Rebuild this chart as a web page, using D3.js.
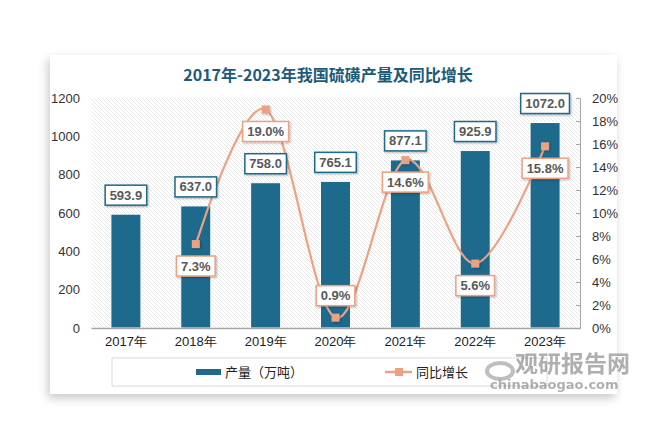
<!DOCTYPE html>
<html>
<head>
<meta charset="utf-8">
<script src="https://cdn.jsdelivr.net/npm/d3@7"></script>
<style>
  html, body { margin: 0; padding: 0; background: #fff; }
  svg { display: block; font-family: "Noto Sans CJK SC", "Noto Sans", sans-serif; }
</style>
</head>
<body>
<div id="chart-container"></div>
<script>
// years, output (10k tons) and yoy growth (%)
const years = ["2017年", "2018年", "2019年", "2020年", "2021年", "2022年", "2023年"];
const output = [593.9, 637.0, 758.0, 765.1, 877.1, 925.9, 1072.0];
const growth = [null, 7.3, 19.0, 0.9, 14.6, 5.6, 15.8];
// label side for growth boxes: 1 = below the point, -1 = above
const growthLabelSide = [0, 1, 1, -1, 1, 1, 1];
const leftTicks = [0, 200, 400, 600, 800, 1000, 1200];
const rightTicks = [0, 2, 4, 6, 8, 10, 12, 14, 16, 18, 20];

const W = 667, H = 448;
const barColor = "#1d6a8c";
const lineColor = "#eba283";

const svg = d3.select("#chart-container")
  .append("svg")
  .attr("width", W)
  .attr("height", H);

const defs = svg.append("defs");

// card shadow
const sh = defs.append("filter").attr("id", "cardShadow")
  .attr("x", "-10%").attr("y", "-10%").attr("width", "120%").attr("height", "125%");
sh.append("feDropShadow").attr("dx", -2).attr("dy", 4).attr("stdDeviation", 5)
  .attr("flood-color", "#000").attr("flood-opacity", 0.22);

const ms = defs.append("filter").attr("id", "markShadow")
  .attr("x", "-50%").attr("y", "-50%").attr("width", "200%").attr("height", "200%");
ms.append("feDropShadow").attr("dx", 1).attr("dy", 1).attr("stdDeviation", 1)
  .attr("flood-color", "#000").attr("flood-opacity", 0.3);

// diagonal hatch for the plot background
const pat = defs.append("pattern").attr("id", "hatch")
  .attr("patternUnits", "userSpaceOnUse").attr("width", 4).attr("height", 4);
pat.append("rect").attr("width", 4).attr("height", 4).attr("fill", "#fff");
pat.append("path").attr("d", "M-1,-1 L5,5 M-1,3 L1,5 M3,-1 L5,1")
  .attr("stroke", "#e2e2e2").attr("stroke-width", 0.8);

// card
svg.append("rect")
  .attr("x", 50).attr("y", 55).attr("width", 567).attr("height", 339)
  .attr("fill", "#fff")
  .attr("filter", "url(#cardShadow)");

const plot = { left: 91, right: 580, top: 98, bottom: 328 };

svg.append("rect")
  .attr("x", plot.left).attr("y", plot.top)
  .attr("width", plot.right - plot.left).attr("height", plot.bottom - plot.top)
  .attr("fill", "url(#hatch)");

// title
svg.append("text")
  .attr("x", 328).attr("y", 81)
  .attr("text-anchor", "middle")
  .attr("font-size", "16px")
  .attr("font-weight", "bold")
  .attr("fill", "#1d5a78")
  .text("2017年-2023年我国硫磺产量及同比增长");

const xScale = d3.scaleBand()
  .domain(years)
  .range([plot.left, plot.right])
  .paddingInner(0.57)
  .paddingOuter(0.285);

const yLeft = d3.scaleLinear().domain([0, 1200]).range([plot.bottom, plot.top]);
const yRight = d3.scaleLinear().domain([0, 20]).range([plot.bottom, plot.top]);

// left axis (labels only)
const leftAxis = svg.append("g")
  .attr("transform", `translate(${plot.left},0)`)
  .call(d3.axisLeft(yLeft).tickValues(leftTicks).tickSize(0).tickPadding(11)
    .tickFormat(d3.format("d")));
leftAxis.select(".domain").remove();
leftAxis.selectAll("text").attr("font-size", "13px").attr("fill", "#333")
  .attr("font-family", "'Liberation Sans', sans-serif");

// right axis
const rightAxis = svg.append("g")
  .attr("transform", `translate(${plot.right},0)`)
  .call(d3.axisRight(yRight).tickValues(rightTicks).tickSize(-4).tickSizeOuter(-4).tickPadding(12)
    .tickFormat(d => d + "%"));
rightAxis.select(".domain").attr("stroke", "#a6a6a6");
rightAxis.selectAll(".tick line").attr("stroke", "#a6a6a6");
rightAxis.selectAll("text").attr("font-size", "13px").attr("fill", "#333")
  .attr("font-family", "'Liberation Sans', sans-serif");

// bars
svg.selectAll("rect.bar")
  .data(output)
  .enter()
  .append("rect")
  .attr("class", "bar")
  .attr("x", (d, i) => xScale(years[i]))
  .attr("y", d => yLeft(d))
  .attr("width", xScale.bandwidth())
  .attr("height", d => plot.bottom - yLeft(d))
  .attr("fill", barColor)
  .attr("stroke", "#fff")
  .attr("stroke-width", 1);

// x axis
const xAxis = svg.append("g")
  .attr("transform", `translate(0,${plot.bottom})`)
  .call(d3.axisBottom(xScale).tickSize(0).tickPadding(9));
xAxis.select(".domain").attr("stroke", "#a6a6a6").attr("stroke-width", 1.5);
xAxis.selectAll("text").attr("font-size", "13px").attr("fill", "#222");

// growth line, smoothed
const linePts = growth
  .map((g, i) => ({ g, i }))
  .filter(d => d.g !== null);
const cx = i => xScale(years[i]) + xScale.bandwidth() / 2;

svg.append("path")
  .datum(linePts)
  .attr("d", d3.line().x(d => cx(d.i)).y(d => yRight(d.g)).curve(d3.curveCardinal.tension(0)))
  .attr("fill", "none")
  .attr("stroke", lineColor)
  .attr("stroke-width", 2.2);

svg.selectAll("rect.mark")
  .data(linePts)
  .enter()
  .append("rect")
  .attr("class", "mark")
  .attr("x", d => cx(d.i) - 4)
  .attr("y", d => yRight(d.g) - 4)
  .attr("width", 8)
  .attr("height", 8)
  .attr("fill", lineColor)
  .attr("filter", "url(#markShadow)");

// label box helper
function labelBox(x, y, txt, border) {
  const g = svg.append("g");
  const t = g.append("text")
    .attr("x", x).attr("y", y + 4.5)
    .attr("text-anchor", "middle")
    .attr("font-size", "13px")
    .attr("font-weight", "bold")
    .attr("fill", "#595959")
    .attr("font-family", "'Liberation Sans', sans-serif")
    .text(txt);
  const w = t.node().getComputedTextLength() + 9;
  g.insert("rect", "text")
    .attr("x", x - w / 2).attr("y", y - 10)
    .attr("width", w).attr("height", 20)
    .attr("fill", "#fff")
    .attr("stroke", border)
    .attr("stroke-width", 1.5)
    .attr("filter", "url(#markShadow)");
}

output.forEach((v, i) => labelBox(cx(i), yLeft(v) - 19, v.toFixed(1), barColor));
linePts.forEach(d => {
  const side = growthLabelSide[d.i];
  labelBox(cx(d.i), yRight(d.g) + side * 22, d.g.toFixed(1) + "%", lineColor);
});

// legend
svg.append("rect")
  .attr("x", 112).attr("y", 358).attr("width", 435).attr("height", 28)
  .attr("fill", "#fff").attr("stroke", "#d9d9d9");
svg.append("rect")
  .attr("x", 196).attr("y", 369).attr("width", 25).attr("height", 6)
  .attr("fill", barColor);
svg.append("text")
  .attr("x", 225).attr("y", 377)
  .attr("font-size", "13px").attr("fill", "#222")
  .text("产量（万吨）");
svg.append("line")
  .attr("x1", 385).attr("x2", 412).attr("y1", 372).attr("y2", 372)
  .attr("stroke", lineColor).attr("stroke-width", 2.5);
svg.append("rect")
  .attr("x", 395).attr("y", 368).attr("width", 8).attr("height", 8)
  .attr("fill", lineColor);
svg.append("text")
  .attr("x", 416).attr("y", 377)
  .attr("font-size", "13px").attr("fill", "#222")
  .text("同比增长");

// watermark
const wm = svg.append("g").attr("opacity", 0.55);
wm.append("ellipse").attr("cx", 500).attr("cy", 371).attr("rx", 13).attr("ry", 8)
  .attr("fill", "none").attr("stroke", "#8a8a8a").attr("stroke-width", 4);
wm.append("text")
  .attr("x", 515).attr("y", 372)
  .attr("font-size", "23px").attr("font-weight", "bold").attr("fill", "#6e6e6e")
  .text("观研报告网");
wm.append("text")
  .attr("x", 490).attr("y", 389)
  .attr("font-size", "13px").attr("font-weight", "bold").attr("fill", "#6e6e6e")
  .attr("font-family", "'DejaVu Sans', sans-serif")
  .text("chinabaogao.com");
</script>
</body>
</html>
